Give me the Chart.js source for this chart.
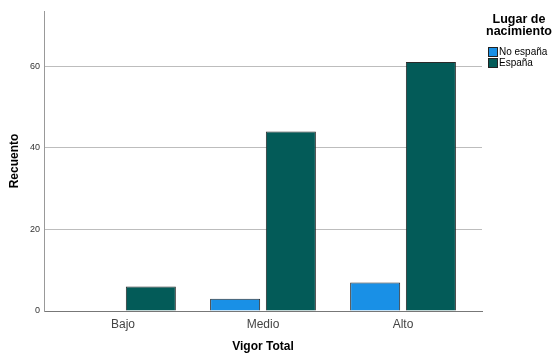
<!DOCTYPE html>
<html lang="es">
<head>
  <meta charset="UTF-8" />
  <title>Vigor Total por Lugar de nacimiento</title>
  <script src="https://cdn.jsdelivr.net/npm/chart.js"></script>
  <style>
    body {
      margin: 0;
      padding: 0;
      background: white;
      font-family: "Liberation Sans", Arial, sans-serif;
    }
    #wrap {
      position: relative;
      width: 552px;
      height: 354px;
    }
    #legend {
      position: absolute;
      left: 486px;
      top: 13px;
      width: 66px;
      color: #000;
    }
    #legend .title {
      font-weight: bold;
      font-size: 12.5px;
      line-height: 12px;
      text-align: center;
      margin-bottom: 10px;
    }
    #legend .item {
      font-size: 10px;
      line-height: 10px;
      height: 10px;
      margin-bottom: 1px;
      white-space: nowrap;
    }
    #legend .box {
      display: inline-block;
      width: 8px;
      height: 8px;
      border: 1px solid #222;
      vertical-align: top;
      margin-right: 1px;
      margin-left: 2px;
    }
  </style>
</head>
<body>
  <div id="wrap">
    <canvas id="chart" width="552" height="354"></canvas>
    <div id="legend"></div>
  </div>

  <script>
    const categories = ["Bajo", "Medio", "Alto"];
    const noEspana = [0, 3, 7];
    const espana = [6, 44, 61];
    const seriesNames = ["No españa", "España"];
    const seriesColors = ["#1990e6", "#035b58"];
    const yTicks = [0, 20, 40, 60];
    const legendTitle = ["Lugar de", "nacimiento"];

    const toPoints = vals => vals.map((v, i) => ({ x: i + 1, y: v }));

    const chart = new Chart(document.getElementById("chart").getContext("2d"), {
      type: "bar",
      data: {
        datasets: [
          {
            label: seriesNames[0],
            data: toPoints(noEspana),
            backgroundColor: seriesColors[0],
            borderColor: "#2a2a2a",
            borderWidth: 1
          },
          {
            label: seriesNames[1],
            data: toPoints(espana),
            backgroundColor: seriesColors[1],
            borderColor: "#2a2a2a",
            borderWidth: 1
          }
        ]
      },
      options: {
        responsive: false,
        animation: false,
        categoryPercentage: 0.796,
        barPercentage: 0.898,
        layout: { padding: { top: 11, right: 70, left: 0, bottom: 0 } },
        plugins: {
          legend: { display: false },
          tooltip: { enabled: false }
        },
        scales: {
          x: {
            type: "linear",
            offset: false,
            min: 0.436,
            max: 3.564,
            afterBuildTicks: scale => {
              scale.ticks = categories.map((c, i) => ({ value: i + 1 }));
            },
            afterFit: scale => { scale.height = 43; },
            grid: { display: false, drawTicks: false, offset: false },
            border: { display: true, color: "#777", width: 1 },
            ticks: {
              padding: 6,
              color: "#444",
              font: { family: "'Liberation Sans', Arial, sans-serif", size: 12 },
              callback: value => categories[value - 1] || ""
            },
            title: {
              display: true,
              text: "Vigor Total",
              color: "#000",
              font: { family: "'Liberation Sans', Arial, sans-serif", size: 12, weight: "bold" },
              padding: { top: 6, bottom: 0 }
            }
          },
          y: {
            min: 0,
            max: 73.5,
            afterBuildTicks: scale => {
              scale.ticks = yTicks.map(v => ({ value: v }));
            },
            afterFit: scale => { scale.width = 44; },
            grid: { color: "#bdbdbd", drawTicks: false, lineWidth: 1 },
            border: { display: true, color: "#999", width: 1 },
            ticks: {
              padding: 4,
              color: "#333",
              font: { family: "'Liberation Sans', Arial, sans-serif", size: 9 }
            },
            title: {
              display: true,
              text: "Recuento",
              color: "#000",
              font: { family: "'Liberation Sans', Arial, sans-serif", size: 12, weight: "bold" },
              padding: { top: 7, bottom: 0 }
            }
          }
        }
      }
    });

    // legend built from the same series arrays
    const legend = document.getElementById("legend");
    legend.innerHTML = `<div class="title">${legendTitle.join("<br>")}</div>` +
      seriesNames.map((n, i) =>
        `<div class="item"><span class="box" style="background:${seriesColors[i]}"></span>${n}</div>`
      ).join("");
  </script>
</body>
</html>
